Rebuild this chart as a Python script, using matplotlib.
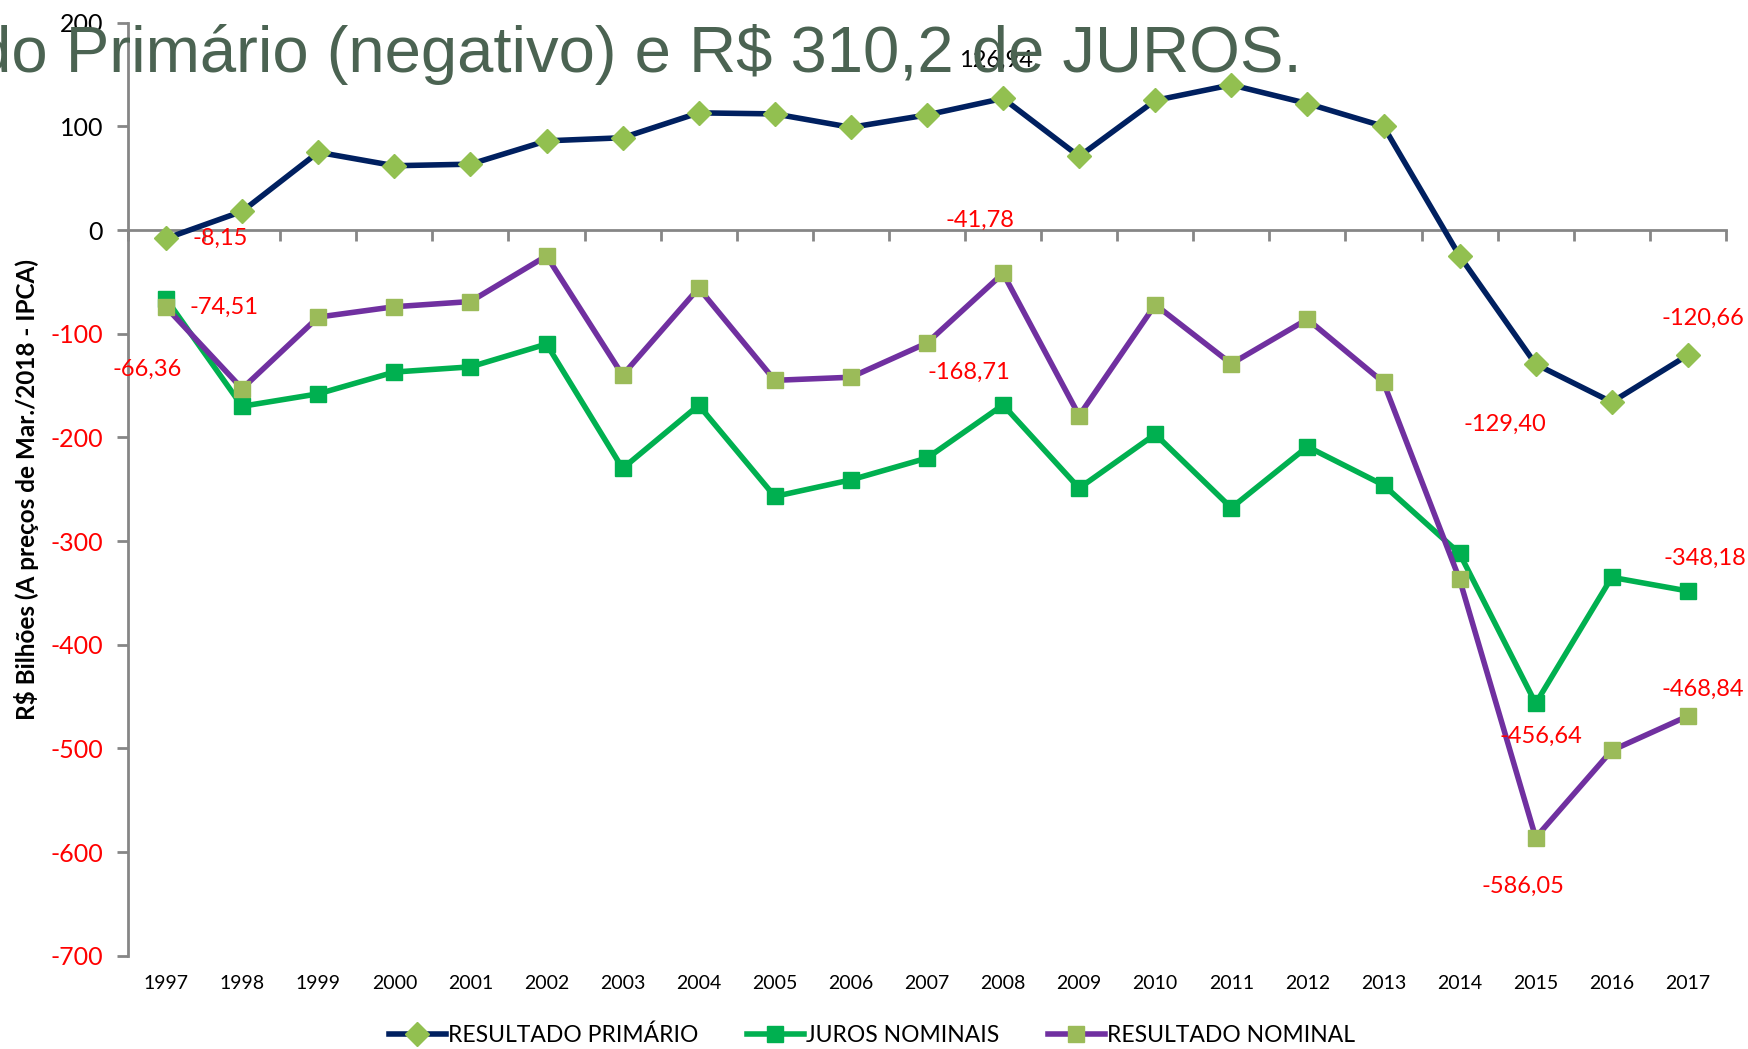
import numpy as np
import matplotlib.pyplot as plt

plt.rcParams['font.family'] = ['Lato', 'DejaVu Sans']

anos = list(range(1997, 2018))
resultado_primario = [-8.15, 18, 75, 62, 63.5, 86, 89, 113, 112, 99, 111,
                      126.94, 71, 125, 140, 122, 100, -25, -129.40, -166, -120.66]
juros_nominais = [-66.36, -170, -158, -137, -132, -110, -230, -169, -257, -241, -220,
                  -168.71, -249, -197, -268, -209, -246, -312, -456.64, -335, -348.18]
resultado_nominal = [-74.51, -153, -84, -74, -69, -25, -140, -56, -145, -142, -109,
                     -41.78, -179, -72, -129, -86, -147, -337, -586.05, -502, -468.84]

# rótulos: (série, ano, texto, dx, dy em pixels, cor)
rotulos = [
    ('prim', 1997, '-8,15', 54, 0, 'red'),
    ('nom', 1997, '-74,51', 58, 0, 'red'),
    ('juros', 1997, '-66,36', -19, -71, 'red'),
    ('prim', 2008, '126,94', -7, 38, 'black'),
    ('nom', 2008, '-41,78', -23, 53, 'red'),
    ('juros', 2008, '-168,71', -34, 33, 'red'),
    ('prim', 2015, '-129,40', -31, -60, 'red'),
    ('prim', 2017, '-120,66', 15, 37, 'red'),
    ('juros', 2017, '-348,18', 17, 33, 'red'),
    ('nom', 2017, '-468,84', 15, 27, 'red'),
    ('juros', 2015, '-456,64', 5, -33, 'red'),
    ('nom', 2015, '-586,05', -13, -49, 'red'),
]
series = {'prim': resultado_primario, 'juros': juros_nominais, 'nom': resultado_nominal}

fig = plt.figure(figsize=(17.49, 10.49), dpi=100)
ax = fig.add_axes([0.0732, 0.0889, 0.9136, 0.8895])

ax.plot(anos, resultado_primario, color='#002060', lw=4, marker='D', ms=12,
        mfc='#92C050', mec='#92C050', label='RESULTADO PRIMÁRIO', zorder=3)
ax.plot(anos, juros_nominais, color='#00B050', lw=4, marker='s', ms=12,
        mfc='#00B050', mec='#00B050', label='JUROS NOMINAIS', zorder=3)
ax.plot(anos, resultado_nominal, color='#7030A0', lw=4, marker='s', ms=12,
        mfc='#9BBB59', mec='#9BBB59', label='RESULTADO NOMINAL', zorder=3)

for serie, ano, txt, dx, dy, cor in rotulos:
    ax.annotate(txt, (ano, series[serie][anos.index(ano)]), xytext=(dx, dy),
                textcoords='offset pixels', ha='center', va='center',
                color=cor, fontsize=17, zorder=4)

ax.set_xlim(1996.5, 2017.5)
ax.set_ylim(-700, 200)
ax.set_yticks(np.arange(-700, 201, 100))
ax.set_yticklabels([str(v) for v in range(-700, 201, 100)], fontsize=18)
for lab, v in zip(ax.get_yticklabels(), range(-700, 201, 100)):
    lab.set_color('red' if v < 0 else 'black')

# eixo das categorias cruzando em zero, rótulos embaixo
ax.spines['bottom'].set_position(('data', 0))
for s in ['top', 'right']:
    ax.spines[s].set_visible(False)
for s in ['left', 'bottom']:
    ax.spines[s].set_color('#868686')
    ax.spines[s].set_linewidth(2)
ax.set_xticks(np.arange(1996.5, 2018, 1))
ax.set_xticklabels([])
ax.tick_params(axis='x', length=8, width=2, color='#868686', direction='out')
ax.tick_params(axis='y', length=8, width=2, color='#868686', direction='out', pad=10)
for ano in anos:
    ax.text(ano, -0.030, str(ano), ha='center', va='center', fontsize=14,
            transform=ax.get_xaxis_transform())

ax.set_ylabel('R$ Bilhões (A preços de Mar./2018 - IPCA)', fontsize=17.5,
              fontweight='bold', labelpad=8)

fig.text(0.744, 0.931, 'Resultado Primário (negativo) e R$ 310,2 de JUROS.',
         ha='right', va='baseline', fontsize=47, color='#4B6352',
         family='Liberation Sans', zorder=0)

ax.legend(loc='center', bbox_to_anchor=(872 / 1749, 0.0133),
          bbox_transform=fig.transFigure, ncol=3, frameon=False, fontsize=16.5,
          handlelength=2.5, handletextpad=0.1, columnspacing=2.1)

fig.savefig('out.png', dpi=100)
